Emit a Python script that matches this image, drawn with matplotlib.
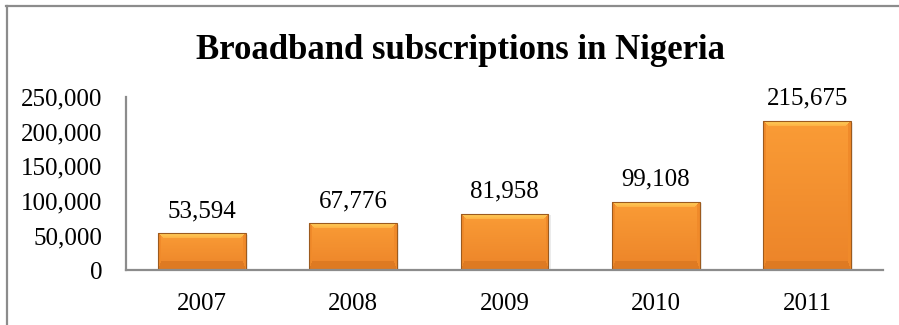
import numpy as np
import matplotlib
matplotlib.use('Agg')
import matplotlib.pyplot as plt
from matplotlib.lines import Line2D
from matplotlib.colors import to_rgb

years = ['2007', '2008', '2009', '2010', '2011']
subscriptions = [53594, 67776, 81958, 99108, 215675]
yticks = [0, 50000, 100000, 150000, 200000, 250000]

plt.rcParams['font.family'] = ['Liberation Serif', 'DejaVu Serif']

fig = plt.figure(figsize=(8.99, 3.25), dpi=100)
ax = fig.add_axes([0.1402, 0.1677, 0.8420, 0.5338])

ax.set_xlim(-0.5, len(years) - 0.5)
ax.set_ylim(0, 250000)

x = np.arange(len(years))
bars = ax.bar(x, subscriptions, width=0.58, color='#F7922F',
              edgecolor='#9C5A1E', linewidth=0.8, zorder=4)


def bevel_image(wpx, hpx):
    # main face: slight vertical gradient
    top_c = np.array(to_rgb('#FA9C36'))
    bot_c = np.array(to_rgb('#EC8429'))
    t = np.linspace(0, 1, hpx).reshape(-1, 1, 1)
    img = top_c * (1 - t) + bot_c * t
    img = np.broadcast_to(img, (hpx, wpx, 3)).copy()
    yy, xx = np.mgrid[0:hpx, 0:wpx]
    dt, db = yy, hpx - 1 - yy
    dl, dr = xx, wpx - 1 - xx
    bt, bb, bs = 6, 9, 3
    top = (dt < bt) & (dt <= dl) & (dt <= dr)
    bot = (db < bb) & (db <= dl * 3) & (db <= dr * 3)
    side = ((dl < bs) | (dr < bs)) & ~top & ~bot
    tt = (dt / bt)[..., None]
    img[top] = (np.array(to_rgb('#FFD25C')) * (1 - tt) + np.array(to_rgb('#FDAF42')) * tt)[top]
    img[bot] = to_rgb('#DE7A22')
    img[side] = to_rgb('#F08A2A')
    return img


fig.canvas.draw()
for b in bars:
    x0, w, h = b.get_x(), b.get_width(), b.get_height()
    p0 = ax.transData.transform((x0, 0))
    p1 = ax.transData.transform((x0 + w, h))
    wpx = max(int(round(p1[0] - p0[0])), 2)
    hpx = max(int(round(p1[1] - p0[1])), 2)
    im = ax.imshow(bevel_image(wpx, hpx), aspect='auto',
                   extent=[x0, x0 + w, 0, h], origin='upper',
                   zorder=3.5, interpolation='nearest')
    im.set_clip_path(b)
    b.set_facecolor('none')
    # soft shadow
    ax.bar(x0 + w / 2 + 0.01, h, width=w + 0.01, bottom=-2500,
           color='#00000014', linewidth=0, zorder=2)

for xi, v in zip(x, subscriptions):
    ax.annotate(f'{v:,}', (xi, v), xytext=(0, 8), textcoords='offset points',
                ha='center', va='bottom', fontsize=18, color='black')

ax.set_yticks(yticks)
ax.set_yticklabels([f'{t:,}' for t in yticks])
ax.set_xticks(x)
ax.set_xticklabels(years)
ax.tick_params(axis='both', length=0, labelsize=18, colors='black')
ax.tick_params(axis='y', pad=17)
ax.tick_params(axis='x', pad=16)

for s in ['top', 'right']:
    ax.spines[s].set_visible(False)
for s in ['left', 'bottom']:
    ax.spines[s].set_color('#8C8C8C')
    ax.spines[s].set_linewidth(1.6)
    ax.spines[s].set_zorder(5)

fig.text(0.512, 0.846, 'Broadband subscriptions in Nigeria', ha='center',
         va='center', fontsize=25, fontweight='bold')

# outer frame (top and left only, as in the reference)
fig.add_artist(Line2D([6 / 899, 1], [1 - 5.5 / 325, 1 - 5.5 / 325],
                      color='#8C8C8C', linewidth=1.6))
fig.add_artist(Line2D([6.5 / 899, 6.5 / 899], [0, 1 - 5.5 / 325],
                      color='#8C8C8C', linewidth=1.6))

fig.savefig('out.png', dpi=100)
